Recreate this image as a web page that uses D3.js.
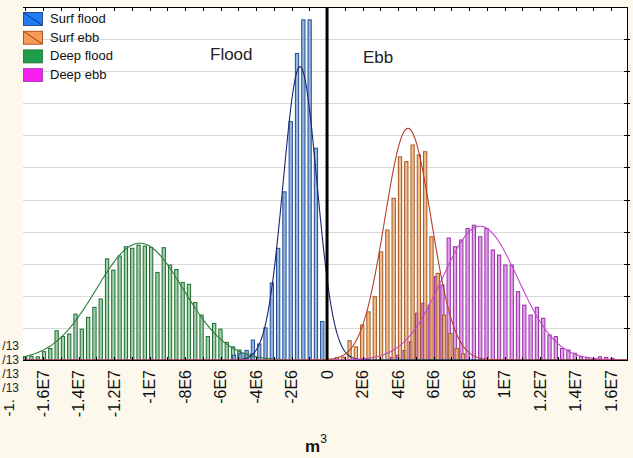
<!DOCTYPE html>
<html><head><meta charset="utf-8">
<script src="https://cdn.jsdelivr.net/npm/d3@7/dist/d3.min.js"></script>
<style>
html,body{margin:0;padding:0;background:#fcf8ec;}
svg{display:block;font-family:"Liberation Sans",Arial,sans-serif;}
</style></head>
<body>
<svg id="chart" width="633" height="458"></svg>
<script>
// ---- data ----
const seriesNames = ["Surf flood", "Surf ebb", "Deep flood", "Deep ebb"];
const binWidth = 3.55e5;            // histogram bin width, m^3
const binStart = {                  // centre of first bin, m^3
  "Deep flood": -17.01e6,
  "Surf flood": -5.24e6,
  "Surf ebb": 0.56e6,
  "Deep ebb": 3.66e6
};
const deepFloodCounts = [1.0,1.2,1.0,2.6,3.6,9.1,7.3,8.1,14.3,9.6,13.3,16.4,19.0,31.5,28.0,32.4,35.3,34.8,35.8,35.5,35.1,27.3,35.0,29.6,28.2,24.2,23.6,17.9,14.0,7.3,11.4,9.6,5.5,4.1,3.1,2.1,1.9];
const surfFloodCounts = [1.5,2.0,3.0,6.2,5.0,10,24,34.8,52.4,74.3,95.5,106,106,66,12];
const surfEbbCounts = [0.8,0.9,6.0,4.1,10.9,15.0,19.7,33.7,40.5,50.4,63.3,61.8,67,63.9,64.9,38.4,27.0,14.0,8.3,3.6,1.9];
const deepEbbCounts = [0.8,1.5,3,5.7,14.6,17.7,17.1,26,23.4,38,35.3,37.4,41,42,38.4,41,34.3,32.7,29.6,29.6,21.3,17.1,14,16.4,13,7.8,7.3,3.6,3.1,2.1,1.0,0.8,0.5,1.0,0.8,0.5];
// fitted normal curves: mean, sd (m^3), peak height (count)
const fitMean = {"Deep flood": -10.55e6, "Surf flood": -1.52e6, "Surf ebb": 4.56e6, "Deep ebb": 8.62e6};
const fitSd   = {"Deep flood": 2.45e6,  "Surf flood": 0.95e6,  "Surf ebb": 1.31e6, "Deep ebb": 2.14e6};
const fitPeak = {"Deep flood": 36.4,    "Surf flood": 91.4,    "Surf ebb": 72.2,   "Deep ebb": 41.7};
const xTickValues = [-16e6,-14e6,-12e6,-10e6,-8e6,-6e6,-4e6,-2e6,0,2e6,4e6,6e6,8e6,10e6,12e6,14e6,16e6];
const xTickLabels = ["-1.6E7","-1.4E7","-1.2E7","-1E7","-8E6","-6E6","-4E6","-2E6","0","2E6","4E6","6E6","8E6","1E7","1.2E7","1.4E7","1.6E7"];
const yGridValues = [0,10,20,30,40,50,60,70,80,90,100,110];
const sideTexts = ["/13","/13","/13","/13"];
const annotations = ["Flood","Ebb"];

// ---- styles ----
const style = {
  "Surf flood": {stroke:"#1d4f9c", fill:"#86a9d2", curve:"#1c2470", legend:"#1f7ef2", hatch:"#10307a"},
  "Surf ebb":   {stroke:"#a9561c", fill:"#e8b583", curve:"#b5402c", legend:"#f79a55", hatch:"#9a3d10"},
  "Deep flood": {stroke:"#1b6e2c", fill:"#93c7a0", curve:"#2f7d3c", legend:"#1e9f4b", hatch:null},
  "Deep ebb":   {stroke:"#9a2ea8", fill:"#d893e2", curve:"#c448c8", legend:"#f51ff0", hatch:null}
};
const counts = {"Deep flood": deepFloodCounts, "Surf flood": surfFloodCounts, "Surf ebb": surfEbbCounts, "Deep ebb": deepEbbCounts};

const svg = d3.select("#chart");
const L = 23, R = 627, T = 7, B = 360;
const x = d3.scaleLinear().domain([-17.13e6, 16.9e6]).range([L, R]);
const y = d3.scaleLinear().domain([0, 110]).range([B, T]);

// plot background
svg.append("rect").attr("x", L).attr("y", T).attr("width", R - L).attr("height", B - T).attr("fill", "#ffffff");

// gridlines
svg.append("g").selectAll("line").data(yGridValues.slice(1, -1)).join("line")
  .attr("x1", L).attr("x2", R).attr("y1", d => Math.round(y(d)) + 0.5).attr("y2", d => Math.round(y(d)) + 0.5)
  .attr("stroke", "#d9d9d9").attr("stroke-width", 1);

// bars
const drawOrder = ["Deep flood", "Surf flood", "Deep ebb", "Surf ebb"];
const pxBin = x(binWidth) - x(0);
const barW = pxBin * 0.52;
drawOrder.forEach(name => {
  const data = counts[name].map((c, i) => ({c, center: binStart[name] + i * binWidth}));
  svg.append("g").selectAll("rect").data(data).join("rect")
    .attr("x", d => x(d.center) - barW / 2)
    .attr("y", d => y(d.c))
    .attr("width", barW)
    .attr("height", d => B - y(d.c))
    .attr("fill", style[name].fill).attr("fill-opacity", 0.85)
    .attr("stroke", style[name].stroke).attr("stroke-width", 1);
});

// fitted curves
const xs = d3.range(0, 601).map(i => -17.13e6 + i * (34.03e6 / 600));
drawOrder.forEach(name => {
  const line = d3.line()
    .x(v => x(v))
    .y(v => y(fitPeak[name] * Math.exp(-0.5 * Math.pow((v - fitMean[name]) / fitSd[name], 2))));
  svg.append("path").datum(xs).attr("d", line)
    .attr("fill", "none").attr("stroke", style[name].curve).attr("stroke-width", 1.1);
});

// frame: top line, right line, bottom axis
svg.append("line").attr("x1", L).attr("x2", R).attr("y1", T + 0.5).attr("y2", T + 0.5).attr("stroke", "#000");
svg.append("line").attr("x1", R + 0.5).attr("x2", R + 0.5).attr("y1", T).attr("y2", B).attr("stroke", "#000");
svg.append("line").attr("x1", L).attr("x2", R + 1).attr("y1", B + 0.5).attr("y2", B + 0.5).attr("stroke", "#000");

// minor ticks top and bottom every 1E6
const minor = d3.range(-17, 17).map(k => k * 1e6).filter(v => x(v) >= L && x(v) <= R);
svg.append("g").selectAll("line").data(minor).join("line")
  .attr("x1", d => Math.round(x(d)) + 0.5).attr("x2", d => Math.round(x(d)) + 0.5)
  .attr("y1", T).attr("y2", T + 4).attr("stroke", "#000");
svg.append("g").selectAll("line").data(minor).join("line")
  .attr("x1", d => Math.round(x(d)) + 0.5).attr("x2", d => Math.round(x(d)) + 0.5)
  .attr("y1", B - 3).attr("y2", B).attr("stroke", "#000");
// right ticks at gridlines
svg.append("g").selectAll("line").data(yGridValues.slice(1, -1)).join("line")
  .attr("x1", R - 3).attr("x2", R + 3).attr("y1", d => Math.round(y(d)) + 0.5).attr("y2", d => Math.round(y(d)) + 0.5)
  .attr("stroke", "#000");

// zero line
svg.append("line").attr("x1", x(0)).attr("x2", x(0)).attr("y1", T).attr("y2", B)
  .attr("stroke", "#000").attr("stroke-width", 3);

// x tick labels (rotated)
svg.append("g").selectAll("text").data(xTickValues).join("text")
  .attr("transform", d => `translate(${x(d) + 5.5},370) rotate(-90)`)
  .attr("text-anchor", "end")
  .attr("font-size", 16).attr("fill", "#111")
  .text((d, i) => xTickLabels[i]);

// axis title
const t = svg.append("text").attr("x", 305).attr("y", 452).attr("font-size", 17).attr("font-weight", "bold").attr("fill", "#111");
t.append("tspan").text("m");
t.append("tspan").attr("font-size", 12).attr("font-weight", "normal").attr("dy", -9).text("3");

// partly visible left texts
svg.append("g").selectAll("text").data(sideTexts).join("text")
  .attr("x", 19).attr("y", (d, i) => 350 + i * 14).attr("text-anchor", "end")
  .attr("font-size", 12).attr("fill", "#222").text(d => d);
svg.append("text").attr("transform", "translate(14,399) rotate(-90)").attr("text-anchor", "end")
  .attr("font-size", 15).attr("fill", "#111").text("-1.");

// annotations
svg.append("text").attr("x", 210).attr("y", 60).attr("font-size", 17).attr("fill", "#222").text(annotations[0]);
svg.append("text").attr("x", 363).attr("y", 63).attr("font-size", 17).attr("fill", "#222").text(annotations[1]);

// legend
const lg = svg.append("g");
seriesNames.forEach((name, i) => {
  const yy = 12 + i * 18.7;
  lg.append("rect").attr("x", 23.5).attr("y", yy + 0.5).attr("width", 19).attr("height", 13)
    .attr("fill", style[name].legend).attr("stroke", style[name].hatch || style[name].stroke).attr("stroke-width", 0.8);
  if (style[name].hatch) {
    lg.append("line").attr("x1", 24).attr("y1", yy + 1).attr("x2", 42).attr("y2", yy + 13)
      .attr("stroke", style[name].hatch).attr("stroke-width", 1);
  }
  lg.append("text").attr("x", 50).attr("y", yy + 11).attr("font-size", 13).attr("fill", "#111").text(name);
});
</script>
</body></html>
